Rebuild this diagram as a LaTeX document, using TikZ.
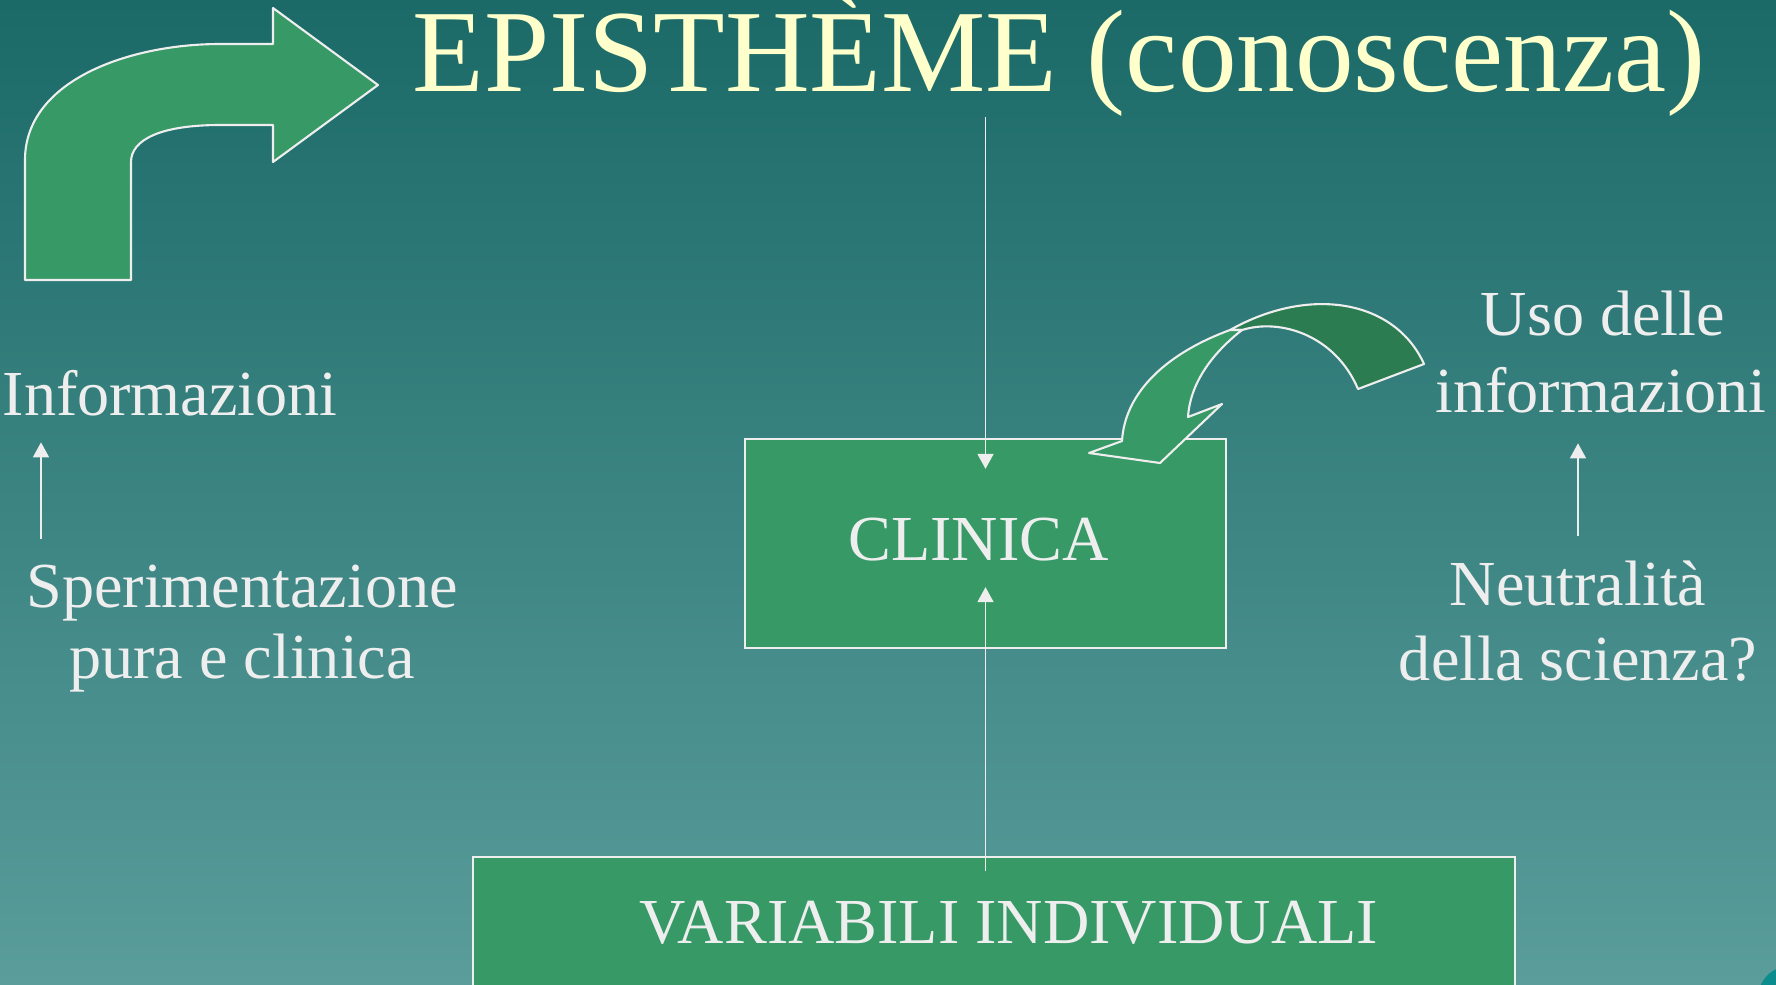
\documentclass[tikz,border=0pt]{standalone}
\usepackage{fontspec}
\setmainfont{Liberation Serif}
\usetikzlibrary{arrows.meta,calc}

\definecolor{slidetop}{RGB}{27,106,104}
\definecolor{slidebottom}{RGB}{90,157,155}
\definecolor{boxgreen}{RGB}{54,153,102}
\definecolor{backgreen}{RGB}{44,124,82}
\definecolor{linegray}{RGB}{238,238,238}
\definecolor{titleyellow}{RGB}{255,255,204}
\definecolor{cornerteal}{RGB}{12,140,140}

\begin{document}
\begin{tikzpicture}[x = 0.01cm, y = -0.01cm,
	box/.style = {draw = linegray, line width = 0.6pt, fill = boxgreen, inner sep = 0pt},
	lbl/.style = {text = linegray, inner sep = 0pt, anchor = base, font = \fontsize{18.25}{22}\selectfont},
	arr/.style = {draw = linegray, line width = 0.45pt, -{Triangle[width = 0.16cm, length = 0.15cm]}},
	bigarrow/.style = {draw = linegray, line width = 0.6pt, line join = round}]
	\shade[top color = slidetop, bottom color = slidebottom] (0,0) rectangle (1776,984);
	\useasboundingbox (0,0) rectangle (1776,984);
	\fill[cornerteal] (1790,998) circle[radius = 32];
	
	\node[anchor = base, inner sep = 0pt, text = titleyellow, font = \fontsize{33.35}{40}\selectfont] (title) at (1059,91) {EPISTHÈME (conoscenza)};
	\node[box, minimum width = 4.81cm, minimum height = 2.09cm] (clinica) at (985.5,543.5) {};
	\node[lbl] (clinicatext) at ($(clinica)+(-7,17)$) {CLINICA};
	\node[box, minimum width = 10.41cm, minimum height = 1.30cm] (var) at (994,922) {};
	\node[lbl] (vartext) at ($(var)+(15,21)$) {VARIABILI INDIVIDUALI};
	
	\node[lbl, anchor = base west] (info) at (2,415) {Informazioni};
	\node[lbl] (sper1) at (242,607) {Sperimentazione};
	\node[lbl] (sper2) at (242,678) {pura e clinica};
	\node[lbl] (uso1) at (1603,335) {Uso delle};
	\node[lbl] (uso2) at (1601,412) {informazioni};
	\node[lbl] (neu1) at (1578,605) {Neutralità};
	\node[lbl] (neu2) at (1578,680) {della scienza?};
	
	\draw[arr] (title.south -| clinica.north) -- ($(clinica.north)+(0,31)$);
	\draw[arr] ($(var.north -| clinica.south)+(0,15)$) -- ($(clinica.south)+(0,-62)$);
	\draw[arr] ($(sper1.north -| info.west)+(39,-25)$) -- ($(info.south west)+(39,26)$);
	\draw[arr] ($(neu1.north)+(0,-24)$) -- ($(uso2.south -| neu1.north)+(0,30)$);
	
	\draw[bigarrow, fill = boxgreen] (25,280) -- (25,160) .. controls (25,80) and (130,44) .. (220,44) -- (273,44) -- (273,8) -- (378,85) -- (273,162) -- (273,125) -- (220,125) .. controls (160,125) and (131,140) .. (131,162) -- (131,280) -- cycle;
	
	\draw[bigarrow, fill = backgreen] (1424,364) .. controls (1395,300) and (1310,285) .. (1230,330) -- (1242,330) .. controls (1280,318) and (1335,335) .. (1358,389) -- cycle;
	\draw[bigarrow, fill = boxgreen] (1230,330) .. controls (1170,352) and (1125,390) .. (1122,441) -- (1089,453) -- (1160,463) -- (1222,404) -- (1188,417) .. controls (1190,385) and (1210,355) .. (1242,330) -- cycle;
\end{tikzpicture}
\end{document}
